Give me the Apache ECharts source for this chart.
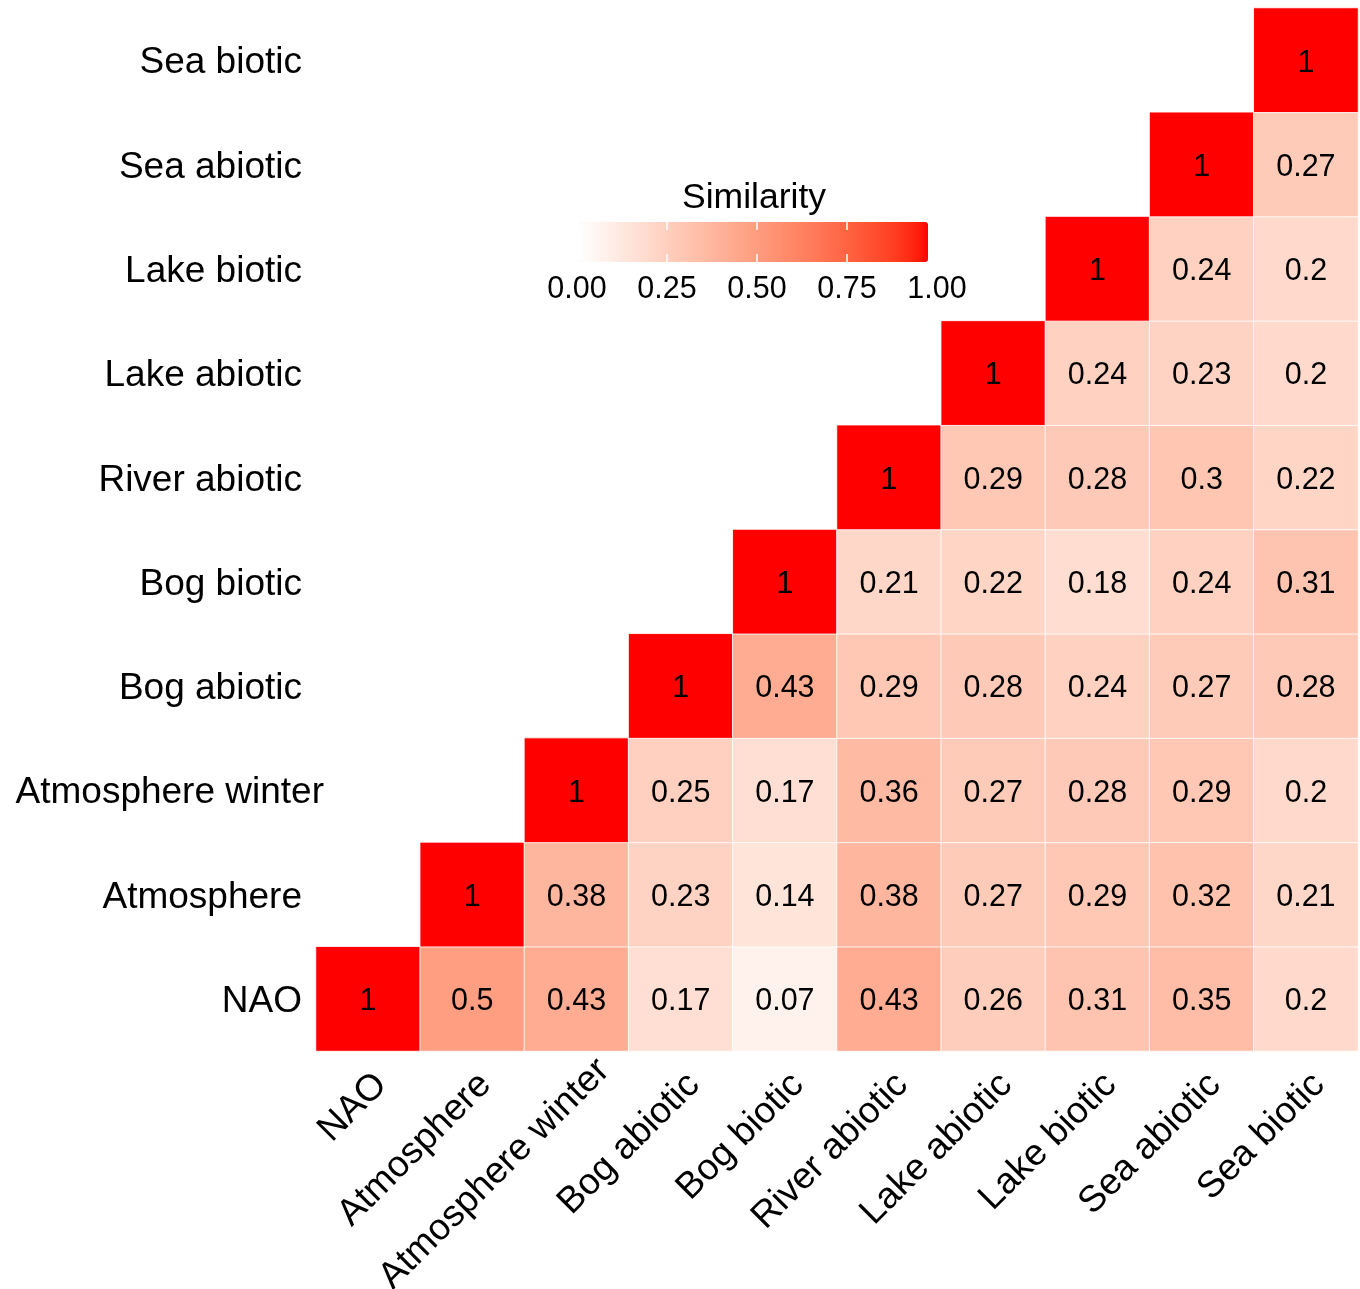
<!DOCTYPE html>
<html>
<head>
<meta charset="utf-8">
<script src="https://cdn.jsdelivr.net/npm/echarts@6/dist/echarts.min.js"></script>
<style>html,body{margin:0;padding:0;background:#fff}#c{width:1360px;height:1289px}</style>
</head>
<body>
<div id="c"></div>
<script>
// Categories (x: left→right, y: bottom→top)
const categories = ['NAO', 'Atmosphere', 'Atmosphere winter', 'Bog abiotic', 'Bog biotic',
  'River abiotic', 'Lake abiotic', 'Lake biotic', 'Sea abiotic', 'Sea biotic'];

// Upper-triangle similarity values; each row starts at its own diagonal cell
const rowNAO              = [1, 0.5, 0.43, 0.17, 0.07, 0.43, 0.26, 0.31, 0.35, 0.2];
const rowAtmosphere       = [1, 0.38, 0.23, 0.14, 0.38, 0.27, 0.29, 0.32, 0.21];
const rowAtmosphereWinter = [1, 0.25, 0.17, 0.36, 0.27, 0.28, 0.29, 0.2];
const rowBogAbiotic       = [1, 0.43, 0.29, 0.28, 0.24, 0.27, 0.28];
const rowBogBiotic        = [1, 0.21, 0.22, 0.18, 0.24, 0.31];
const rowRiverAbiotic     = [1, 0.29, 0.28, 0.3, 0.22];
const rowLakeAbiotic      = [1, 0.24, 0.23, 0.2];
const rowLakeBiotic       = [1, 0.24, 0.2];
const rowSeaAbiotic       = [1, 0.27];
const rowSeaBiotic        = [1];

const legendTicks = [0, 0.25, 0.5, 0.75, 1];
const legendTickLabels = ['0.00', '0.25', '0.50', '0.75', '1.00'];

const rows = [rowNAO, rowAtmosphere, rowAtmosphereWinter, rowBogAbiotic, rowBogBiotic,
  rowRiverAbiotic, rowLakeAbiotic, rowLakeBiotic, rowSeaAbiotic, rowSeaBiotic];

const data = [];
rows.forEach((row, r) => row.forEach((v, k) => data.push([r + k, r, v])));

// white -> red gradient interpolated in CIELAB (like ggplot's scale_fill_gradient)
function labToHex(L, a, b) {
  const fy = (L + 16) / 116, fx = fy + a / 500, fz = fy - b / 200;
  const d = 6 / 29;
  const finv = t => t > d ? t * t * t : 3 * d * d * (t - 4 / 29);
  const X = 0.95047 * finv(fx), Y = finv(fy), Z = 1.08883 * finv(fz);
  const r = 3.2404542 * X - 1.5371385 * Y - 0.4985314 * Z;
  const g = -0.9692660 * X + 1.8760108 * Y + 0.0415560 * Z;
  const bl = 0.0556434 * X - 0.2040259 * Y + 1.0572252 * Z;
  const gam = c => { c = Math.max(0, Math.min(1, c)); return c <= 0.0031308 ? 12.92 * c : 1.055 * Math.pow(c, 1 / 2.4) - 0.055; };
  return '#' + [r, g, bl].map(c => Math.round(gam(c) * 255).toString(16).padStart(2, '0')).join('');
}
const stops = [];
for (let i = 0; i <= 40; i++) {
  const t = i / 40;
  stops.push(labToHex(100 - (100 - 53.2408) * t, 80.0925 * t, 67.2032 * t));
}

const FONT = "'Liberation Sans', Arial, Helvetica, sans-serif";
const chart = echarts.init(document.getElementById('c'));

// legend geometry
const barLeft = 580, barTop = 222, barLen = 348, barThick = 40;
const labelX0 = 577, labelStep = 360; // label positions for 0 and span to 1
const graphics = [
  { type: 'text', silent: true, x: 754, y: 198,
    style: { text: 'Similarity', fontSize: 35.5, fontFamily: FONT, fill: '#000', align: 'center', verticalAlign: 'middle' } }
];
legendTicks.forEach((t, i) => {
  graphics.push({ type: 'text', silent: true, x: labelX0 + labelStep * t, y: 290,
    style: { text: legendTickLabels[i], fontSize: 30.5, fontFamily: FONT, fill: '#000', align: 'center', verticalAlign: 'middle' } });
  if (t > 0 && t < 1) {
    const tx = labelX0 + labelStep * t;
    graphics.push({ type: 'line', silent: true, z: 100, shape: { x1: tx, y1: barTop, x2: tx, y2: barTop + 8 }, style: { stroke: '#fff', lineWidth: 1.5 } });
    graphics.push({ type: 'line', silent: true, z: 100, shape: { x1: tx, y1: barTop + barThick - 8, x2: tx, y2: barTop + barThick }, style: { stroke: '#fff', lineWidth: 1.5 } });
  }
});

const yLabelStyle = { fontSize: 37, fontFamily: FONT, color: '#000', padding: [6, 0, 0, 0] };
const xLabelStyle = { fontSize: 37, fontFamily: FONT, color: '#000' };

chart.setOption({
  backgroundColor: '#fff',
  animation: false,
  grid: { left: 316, right: 2, top: 8, bottom: 238, outerBoundsMode: 'none' },
  xAxis: {
    type: 'category', data: categories,
    axisLine: { show: false }, axisTick: { show: false }, splitLine: { show: false },
    axisLabel: {
      rotate: 45, interval: 0, fontSize: 37, fontFamily: FONT, color: '#000', margin: 15,
      align: 'right', verticalAlign: 'top', hideOverlap: false,
      formatter: v => (v === 'Atmosphere winter' ? '{w|' : '{a|') + v + '}',
      rich: {
        a: xLabelStyle,
        w: Object.assign({}, xLabelStyle, { padding: [0, -20, 0, 0] })
      }
    }
  },
  yAxis: {
    type: 'category', data: categories,
    axisLine: { show: false }, axisTick: { show: false }, splitLine: { show: false },
    axisLabel: {
      interval: 0, fontSize: 37, fontFamily: FONT, color: '#000', margin: 14, hideOverlap: false,
      formatter: v => (v === 'Atmosphere winter' ? '{w|' : '{a|') + v + '}',
      rich: {
        a: yLabelStyle,
        w: Object.assign({}, yLabelStyle, { padding: [6, -22, 0, 0] })
      }
    }
  },
  visualMap: {
    type: 'continuous', min: 0, max: 1, orient: 'horizontal',
    left: barLeft, top: barTop, itemWidth: barThick, itemHeight: barLen,
    padding: 0, text: null, calculable: false, showLabel: false, hoverLink: false,
    inRange: { color: stops }
  },
  series: [{
    type: 'heatmap', data: data,
    itemStyle: { borderColor: 'rgba(255,255,255,0.85)', borderWidth: 1 },
    label: { show: true, fontSize: 30.5, fontFamily: FONT, color: '#000', offset: [0, 3], formatter: p => String(p.value[2]) },
    emphasis: { disabled: true }
  }],
  graphic: graphics
});
</script>
</body>
</html>
